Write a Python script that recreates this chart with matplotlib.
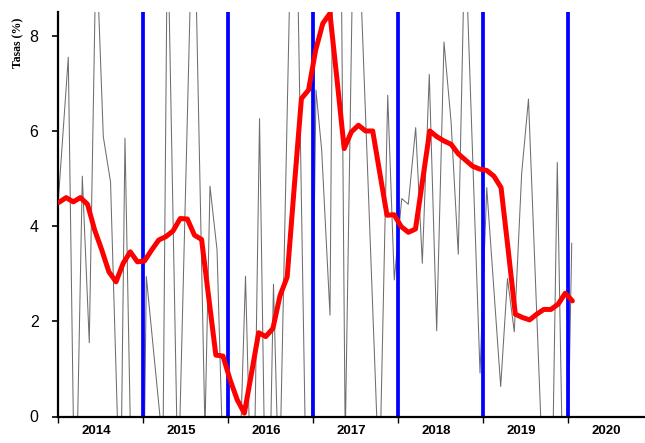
import matplotlib
matplotlib.use("Agg")
import matplotlib.pyplot as plt
import numpy as np

# ---------------- data ----------------
year_labels = ["2014", "2015", "2016", "2017", "2018", "2019", "2020"]
boundary_years = [2015, 2016, 2017, 2018, 2019, 2020]

# monthly smoothed rate (red), Jan-2014 .. Jan-2020
red_values = [4.50, 4.60, 4.51, 4.60, 4.46, 3.92, 3.50, 3.04, 2.83, 3.22,
              3.46, 3.25, 3.27, 3.50, 3.71, 3.78, 3.90, 4.16, 4.15, 3.81,
              3.72, 2.50, 1.29, 1.27, 0.77, 0.35, 0.07, 0.91, 1.76, 1.68,
              1.85, 2.54, 2.93, 4.83, 6.68, 6.86, 7.70, 8.26, 8.47, 7.07,
              5.63, 5.98, 6.12, 6.00, 6.00, 5.11, 4.23, 4.24, 3.99, 3.87,
              3.94, 4.97, 6.00, 5.88, 5.79, 5.72, 5.52, 5.39, 5.26, 5.20,
              5.17, 5.05, 4.81, 3.50, 2.15, 2.08, 2.03, 2.15, 2.25, 2.25,
              2.36, 2.59, 2.43]

# raw rate (thin grey), dates in decimal years
black_dates = [2014.006, 2014.121, 2014.202, 2014.286, 2014.368, 2014.449,
               2014.533, 2014.618, 2014.734, 2014.788, 2014.953, 2015.039,
               2015.235, 2015.288, 2015.413, 2015.595, 2015.729, 2015.788,
               2015.871, 2016.035, 2016.206, 2016.292, 2016.371, 2016.460,
               2016.535, 2016.602, 2016.780, 2016.949, 2017.035, 2017.102,
               2017.200, 2017.280, 2017.379, 2017.492, 2017.781, 2017.879,
               2017.956, 2018.044, 2018.121, 2018.208, 2018.286, 2018.368,
               2018.455, 2018.541, 2018.624, 2018.709, 2018.788, 2018.965,
               2019.044, 2019.208, 2019.288, 2019.368, 2019.455, 2019.535,
               2019.784, 2019.874, 2019.965, 2020.044]
black_values = [4.6, 7.55, -2.8, 5.05, 1.55, 10.0, 5.88, 4.93, -2.2, 5.85,
                -10, 2.94, -0.65, 10.5, -1.6, 11.6, -0.3, 4.84, 3.5, -7,
                2.95, -3.2, 6.26, -4.3, 2.78, -1.75, 13.6, -4.7, 6.86, 5.6,
                2.13, 21, -0.5, 12.4, -1.5, 6.75, 2.87, 4.58, 4.46, 6.07,
                3.22, 7.19, 1.80, 7.87, 6.2, 3.41, 10.2, 0.91, 4.81, 0.63,
                2.9, 1.78, 5.11, 6.67, -4.9, 5.34, -4.0, 3.64]

y_ticks = [0, 2, 4, 6, 8]

# ---------------- figure ----------------
W, H = 645, 443
fig = plt.figure(figsize=(W / 100, H / 100), dpi=100)
ax = fig.add_axes([58 / W, 1 - 416.5 / H, (W - 58) / W, (416.5 - 12) / H])

red_x = 2014 + (0.14 + np.arange(len(red_values)) * 1.0066) / 12

ax.plot(black_dates, black_values, color="#6e6e6e", lw=0.75, zorder=1)
for yb in boundary_years:
    ax.axvline(yb, color="#0000FF", lw=2.7, zorder=2)
ax.plot(red_x, red_values, color="#FF0000", lw=3.6, zorder=3,
        solid_joinstyle="round", solid_capstyle="round")

ax.set_xlim(2014, 2014 + (W - 58) / 85)
ax.set_ylim(0, 8.5)

for s in ["top", "right"]:
    ax.spines[s].set_visible(False)
for s in ["left", "bottom"]:
    ax.spines[s].set_linewidth(1.6)
    ax.spines[s].set_color("black")

ax.set_yticks(y_ticks)
ax.set_yticklabels([str(v) for v in y_ticks], fontsize=11.5,
                   family="Liberation Sans")
ax.tick_params(axis="y", length=4, width=1.2, pad=10)

ax.set_xticks(list(range(2014, 2021)))
ax.set_xticklabels([""] * 7)
ax.tick_params(axis="x", which="major", length=4, width=1.0)
ax.set_xticks([int(y) + 0.453 for y in year_labels], minor=True)
ax.set_xticklabels(year_labels, minor=True, fontsize=9.5, fontweight="bold",
                   family="Liberation Sans")
ax.tick_params(axis="x", which="minor", length=0, pad=6)

fig.text(18 / W, 1 - 43 / H, "Tasas (%)", rotation=90, ha="center",
         va="center", fontsize=8.5, fontweight="bold",
         family="Liberation Serif")

fig.savefig("out.png", dpi=100)
